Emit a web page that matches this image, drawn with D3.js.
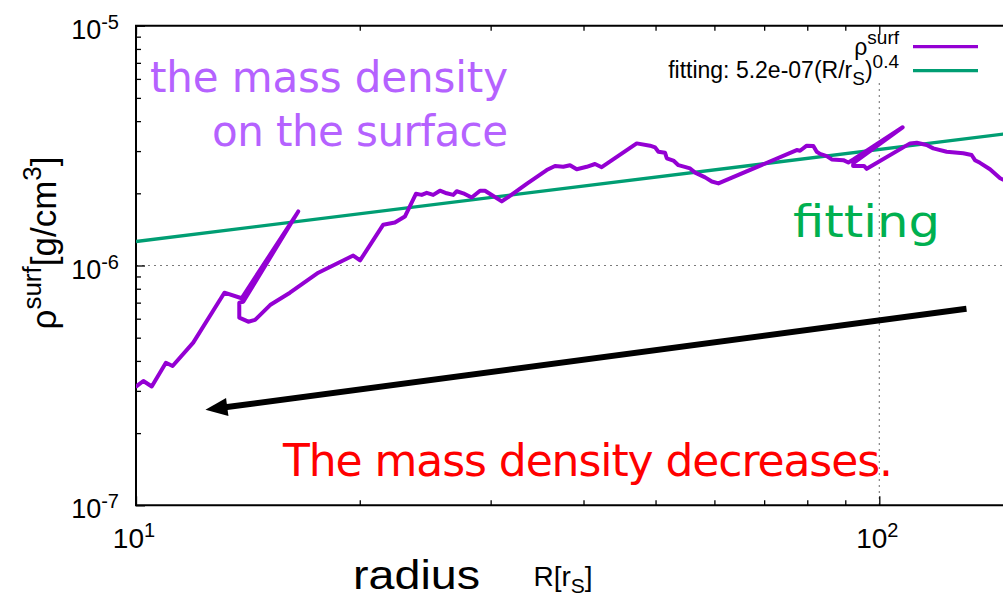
<!DOCTYPE html>
<html>
<head>
<meta charset="utf-8">
<script src="https://cdn.jsdelivr.net/npm/d3@7"></script>
<style>
  body { margin: 0; background: #fff; }
  svg { display: block; }
</style>
</head>
<body>
<svg id="chart" width="1003" height="598"></svg>
<script>
// Surface mass density profile rho_surf(R), R in units of r_S
const radius = [10.02, 10.23, 10.50, 10.97, 11.20, 11.94, 13.15, 13.87, 16.53, 13.94,
  13.77, 13.77, 14.16, 14.46, 15.15, 16.11, 17.59, 19.60, 20.02, 21.51,
  22.30, 23.00, 23.80, 24.23, 24.61, 25.11, 25.64, 26.18, 26.72, 27.01,
  27.56, 28.29, 29.03, 29.48, 30.25, 31.05, 31.85, 33.54, 35.69, 36.62,
  37.57, 38.36, 39.17, 40.40, 41.45, 42.32, 47.17, 49.16, 49.93, 50.44,
  51.50, 51.77, 52.84, 53.67, 55.65, 56.52, 58.30, 59.52, 60.75, 77.43,
  78.23, 79.87, 81.52, 82.38, 83.23, 84.98, 86.30, 89.46, 90.85, 92.27,
  107.5, 92.27, 92.20, 95.38, 96.18, 110.0, 112.3, 115.8, 118.2, 123.2,
  129.7, 133.1, 134.5, 136.6, 140.9, 145.4, 149.0];
const density = [3.14e-7, 3.30e-7, 3.13e-7, 3.93e-7, 3.81e-7, 4.77e-7, 7.70e-7, 7.30e-7, 1.68e-6, 7.06e-7,
  7.00e-7, 6.06e-7, 5.83e-7, 5.93e-7, 6.84e-7, 7.70e-7, 9.33e-7, 1.10e-6, 1.05e-6, 1.48e-6,
  1.51e-6, 1.60e-6, 1.99e-6, 1.97e-6, 2.01e-6, 1.97e-6, 2.05e-6, 2.00e-6, 1.97e-6, 2.04e-6,
  2.00e-6, 1.92e-6, 2.05e-6, 2.05e-6, 1.95e-6, 1.85e-6, 1.95e-6, 2.19e-6, 2.50e-6, 2.60e-6,
  2.58e-6, 2.62e-6, 2.52e-6, 2.58e-6, 2.65e-6, 2.57e-6, 3.23e-6, 3.16e-6, 3.11e-6, 2.98e-6,
  2.95e-6, 2.80e-6, 2.74e-6, 2.62e-6, 2.54e-6, 2.44e-6, 2.33e-6, 2.24e-6, 2.20e-6, 3.03e-6,
  3.01e-6, 3.16e-6, 3.15e-6, 2.98e-6, 2.92e-6, 2.86e-6, 2.77e-6, 2.75e-6, 2.69e-6, 2.77e-6,
  3.77e-6, 2.67e-6, 2.60e-6, 2.60e-6, 2.53e-6, 3.23e-6, 3.25e-6, 3.18e-6, 3.08e-6, 2.98e-6,
  2.94e-6, 2.89e-6, 2.75e-6, 2.68e-6, 2.52e-6, 2.31e-6, 2.23e-6];

// Power-law fit rho = A (R/r_S)^B
const fitA = 5.2e-7;
const fitB = 0.384;
const fitRange = [10, 160];

// Axis ticks
const xMajorTicks = [10, 100];
const xMinorTicks = [20, 30, 40, 50, 60, 70, 80, 90, 200];
const xTickExponents = ["1", "2"];
const yMajorTicks = [1e-7, 1e-6, 1e-5];
const yMinorTicks = [2e-7, 3e-7, 4e-7, 5e-7, 6e-7, 7e-7, 8e-7, 9e-7,
                     2e-6, 3e-6, 4e-6, 5e-6, 6e-6, 7e-6, 8e-6, 9e-6];
const yTickExponents = ["-7", "-6", "-5"];

// Trend arrow (tail, head) in data coordinates
const arrowTail = [131, 6.6e-7];
const arrowHead = [12.4, 2.5e-7];

// ---------------------------------------------------------------
const W = 1003, H = 598;
const svg = d3.select("#chart");
const x = d3.scaleLog().domain([10, 100]).range([136, 879.3]);
const y = d3.scaleLog().domain([1e-7, 1e-5]).range([505.3, 25.7]);
const plotL = x(10), plotR = W + 20, plotT = y(1e-5), plotB = y(1e-7);
const sans = "'Liberation Sans', Arial, Helvetica, sans-serif";
const round = "'DejaVu Sans', Verdana, sans-serif";

svg.append("rect").attr("width", W).attr("height", H).attr("fill", "#fff");

svg.append("defs").append("clipPath").attr("id", "plotClip")
  .append("rect").attr("x", plotL).attr("y", plotT)
  .attr("width", plotR - plotL).attr("height", plotB - plotT);

// grid at major ticks
const grid = svg.append("g").attr("stroke", "#7a7a7a").attr("stroke-width", 1.1)
  .attr("stroke-dasharray", "2,4").attr("fill", "none");
grid.append("line").attr("x1", plotL).attr("x2", plotR)
  .attr("y1", y(1e-6)).attr("y2", y(1e-6));
grid.append("line").attr("x1", x(100)).attr("x2", x(100))
  .attr("y1", 83).attr("y2", plotB);

// ticks via d3 axes (inward)
function styleAxis(g) {
  g.select(".domain").remove();
  g.selectAll(".tick line").attr("stroke", "#000").attr("stroke-width", 1.3);
  g.selectAll(".tick text").remove();
}
[["axisBottom", plotB], ["axisTop", plotT]].forEach(([fn, ty]) => {
  svg.append("g").attr("transform", `translate(0,${ty})`)
    .call(d3[fn](x).tickValues(xMajorTicks).tickSize(-9).tickFormat(""))
    .call(styleAxis);
  svg.append("g").attr("transform", `translate(0,${ty})`)
    .call(d3[fn](x).tickValues(xMinorTicks).tickSize(-5).tickFormat(""))
    .call(styleAxis);
});
svg.append("g").attr("transform", `translate(${plotL},0)`)
  .call(d3.axisLeft(y).tickValues(yMajorTicks).tickSize(-9).tickFormat(""))
  .call(styleAxis);
svg.append("g").attr("transform", `translate(${plotL},0)`)
  .call(d3.axisLeft(y).tickValues(yMinorTicks).tickSize(-5).tickFormat(""))
  .call(styleAxis);

// frame
svg.append("path")
  .attr("d", `M${plotR},${plotT}H${plotL}V${plotB}H${plotR}`)
  .attr("fill", "none").attr("stroke", "#000").attr("stroke-width", 2);

// text with super/subscripts
function rich(parent, parts, attrs) {
  const t = parent.append("text").attr("font-family", sans).attr("fill", "#000");
  Object.entries(attrs).forEach(([k, v]) => t.attr(k, v));
  let shift = 0;
  parts.forEach(p => {
    const want = p.shift || 0;
    t.append("tspan").attr("font-size", p.size).attr("dy", want - shift).text(p.t);
    shift = want;
  });
  return t;
}

// tick labels
xMajorTicks.forEach((v, i) => {
  rich(svg, [{ t: "10", size: 28 }, { t: xTickExponents[i], size: 20, shift: -11 }],
    { x: x(v) - 2, y: 547.5, "text-anchor": "middle" });
});
yMajorTicks.forEach((v, i) => {
  rich(svg, [{ t: "10", size: 27 }, { t: yTickExponents[i], size: 20, shift: -10 }],
    { x: 119, y: y(v) + 13, "text-anchor": "end" });
});

// axis titles
rich(svg, [{ t: "ρ", size: 35 }, { t: "surf", size: 26, shift: -15 },
           { t: "[g/cm", size: 35 }, { t: "3", size: 26, shift: -15 }, { t: "]", size: 35 }],
  { transform: "translate(56,243) rotate(-90)", "text-anchor": "middle" });
rich(svg, [{ t: "R[r", size: 28 }, { t: "S", size: 21, shift: 7 }, { t: "]", size: 28 }],
  { x: 563, y: 586, "text-anchor": "middle" });

// series
const plot = svg.append("g").attr("clip-path", "url(#plotClip)");
const line = d3.line().x(d => x(d[0])).y(d => y(d[1]));
const fitPts = fitRange.map(r => [r, fitA * Math.pow(r, fitB)]);
plot.append("path").datum(fitPts).attr("d", line)
  .attr("fill", "none").attr("stroke", "#009e73").attr("stroke-width", 3.3);
plot.append("path").datum(radius.map((r, i) => [r, density[i]])).attr("d", line)
  .attr("fill", "none").attr("stroke", "#9400d3").attr("stroke-width", 4)
  .attr("stroke-linejoin", "round").attr("stroke-linecap", "round");

// key
const fmtA = s => d3.format(".1e")(s).replace(/e([+-])(\d)$/, "e$10$2");
const keyX1 = 913, keyX2 = 978, keyTextX = 899;
svg.append("line").attr("x1", keyX1).attr("x2", keyX2).attr("y1", 46.7).attr("y2", 46.7)
  .attr("stroke", "#9400d3").attr("stroke-width", 3.3);
svg.append("line").attr("x1", keyX1).attr("x2", keyX2).attr("y1", 70.7).attr("y2", 70.7)
  .attr("stroke", "#009e73").attr("stroke-width", 3.3);
rich(svg, [{ t: "ρ", size: 23 }, { t: "surf", size: 19, shift: -11 }],
  { x: keyTextX, y: 55, "text-anchor": "end" });
rich(svg, [{ t: "fitting: " + fmtA(fitA) + "(R/r", size: 23 }, { t: "S", size: 19, shift: 7 },
           { t: ")", size: 23 }, { t: d3.format(".1f")(fitB), size: 19, shift: -10 }],
  { x: keyTextX, y: 78, "text-anchor": "end" });

// arrow showing the trend
const ax1 = x(arrowTail[0]), ay1 = y(arrowTail[1]);
const ax2 = x(arrowHead[0]), ay2 = y(arrowHead[1]);
const len = Math.hypot(ax2 - ax1, ay2 - ay1);
const ux = (ax2 - ax1) / len, uy = (ay2 - ay1) / len;
const headL = 22, headW = 9;
svg.append("line").attr("x1", ax1).attr("y1", ay1)
  .attr("x2", ax2 - ux * (headL - 4)).attr("y2", ay2 - uy * (headL - 4))
  .attr("stroke", "#000").attr("stroke-width", 6);
const bx = ax2 - ux * headL, by = ay2 - uy * headL;
svg.append("polygon").attr("fill", "#000").attr("points",
  [[ax2, ay2], [bx - uy * headW, by + ux * headW], [bx + uy * headW, by - ux * headW]]
    .map(p => p.join(",")).join(" "));

// annotations: left edge, baseline, colour, target width, font, size
function note(txt, xPos, yPos, color, width, family, size, adjust) {
  return svg.append("text").attr("x", xPos).attr("y", yPos)
    .attr("fill", color).attr("font-family", family).attr("font-size", size)
    .attr("textLength", width).attr("lengthAdjust", adjust || "spacing").text(txt);
}
note("the mass density", 150, 92, "#b562ff", 358, round, 42);
note("on the surface", 212, 146, "#b562ff", 296, round, 42);
note("fitting", 793, 237, "#00b050", 147, round, 45, "spacingAndGlyphs");
note("The mass density decreases.", 283, 476, "#ff0000", 610, round, 44);
note("radius", 353, 589, "#000", 127, sans, 40, "spacingAndGlyphs");
</script>
</body>
</html>
